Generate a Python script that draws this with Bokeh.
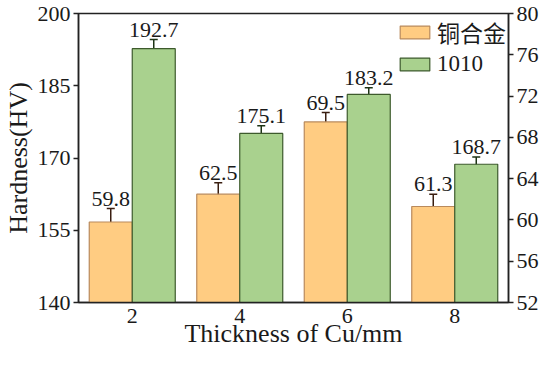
from bokeh.plotting import figure
from bokeh.models import (Range1d, LinearAxis, FixedTicker, Whisker, ColumnDataSource,
                          Legend, LegendItem, TeeHead, FactorRange)
from bokeh.transform import dodge
from bokeh.embed import file_html
from bokeh.resources import INLINE

thickness = ["2", "4", "6", "8"]
cu_alloy = [59.8, 62.5, 69.5, 61.3]
cu_err = [1.3, 1.1, 0.9, 1.2]
steel_1010 = [192.7, 175.1, 183.2, 168.7]
steel_err = [1.9, 1.6, 1.4, 1.5]
left_ticks = [140, 155, 170, 185, 200]
right_ticks = [52, 56, 60, 64, 68, 72, 76, 80]

FONT = "'Liberation Serif', 'Times New Roman', serif"
LEG_FONT = "'Liberation Serif', 'Noto Sans CJK SC', serif"

src_cu = ColumnDataSource(dict(
    x=thickness, top=cu_alloy,
    upper=[v + e for v, e in zip(cu_alloy, cu_err)],
    lower=[v - e for v, e in zip(cu_alloy, cu_err)],
    label=[f"{v}" for v in cu_alloy]))
src_st = ColumnDataSource(dict(
    x=thickness, top=steel_1010,
    upper=[v + e for v, e in zip(steel_1010, steel_err)],
    lower=[v - e for v, e in zip(steel_1010, steel_err)],
    label=[f"{v}" for v in steel_1010]))

p = figure(x_range=FactorRange(factors=thickness, range_padding=0),
           y_range=Range1d(140, 200), width=541, height=350,
           output_backend="svg", toolbar_location=None,
           min_border_top=13, min_border_right=0, min_border_left=0, min_border_bottom=0)
p.extra_y_ranges = {"right": Range1d(52, 80)}
p.xgrid.grid_line_color = None
p.ygrid.grid_line_color = None
p.outline_line_color = "#222222"
p.outline_line_width = 1.5
p.background_fill_color = "white"

orange_fill, orange_line, orange_err = "#FFCC82", "#B98A5C", "#3A1E10"
green_fill, green_line, green_err = "#A9D18E", "#3D5A2C", "#1C3314"

r_cu = p.vbar(x=dodge("x", -0.2, range=p.x_range), top="top", bottom=52, width=0.4,
              source=src_cu, y_range_name="right", fill_color=orange_fill,
              line_color=orange_line, line_width=1.2)
r_st = p.vbar(x=dodge("x", 0.2, range=p.x_range), top="top", bottom=140, width=0.4,
              source=src_st, fill_color=green_fill, line_color=green_line, line_width=1.2)

w_cu = Whisker(source=src_cu, base=dodge("x", -0.2, range=p.x_range), upper="upper",
               lower="lower", y_range_name="right", line_color=orange_err, line_width=1.5,
               upper_head=TeeHead(size=8, line_color=orange_err, line_width=1.5),
               lower_head=TeeHead(size=8, line_color=orange_err, line_width=1.5))
w_st = Whisker(source=src_st, base=dodge("x", 0.2, range=p.x_range), upper="upper",
               lower="lower", line_color=green_err, line_width=1.5,
               upper_head=TeeHead(size=8, line_color=green_err, line_width=1.5),
               lower_head=TeeHead(size=8, line_color=green_err, line_width=1.5))
p.add_layout(w_cu)
p.add_layout(w_st)

p.text(x=dodge("x", -0.2, range=p.x_range), y="upper", text="label", source=src_cu,
       y_range_name="right", text_align="center", text_baseline="bottom", y_offset=-3,
       text_font=FONT, text_font_size="22px", text_color="#1a1a1a")
p.text(x=dodge("x", 0.2, range=p.x_range), y="upper", text="label", source=src_st,
       text_align="center", text_baseline="bottom", y_offset=-3,
       text_font=FONT, text_font_size="22px", text_color="#1a1a1a")

# left axis
ya = p.yaxis[0]
ya.ticker = FixedTicker(ticks=left_ticks)
ya.axis_label = "Hardness(HV)"

# right axis
ra = LinearAxis(y_range_name="right", ticker=FixedTicker(ticks=right_ticks))
p.add_layout(ra, "right")

for ax in (ya, ra):
    ax.major_tick_out = 5
    ax.major_tick_in = 0
    ax.minor_tick_line_color = None
    ax.major_label_standoff = 3

xa = p.xaxis[0]
xa.axis_label = "Thickness of Cu/mm"
xa.major_tick_out = 0
xa.major_tick_in = 0
xa.major_label_standoff = 6
xa.axis_label_standoff = -7

for ax in (ya, ra, xa):
    ax.axis_line_color = "#222222"
    ax.axis_line_width = 1.5
    ax.major_tick_line_color = "#222222" if ax is not xa else None
    ax.major_tick_line_width = 1.5
    ax.major_label_text_font = FONT
    ax.major_label_text_font_size = "22px"
    ax.major_label_text_color = "#1a1a1a"
    ax.axis_label_text_font = FONT
    ax.axis_label_text_font_size = "26px"
    ax.axis_label_text_font_style = "normal"
    ax.axis_label_text_color = "#1a1a1a"
ya.axis_label_standoff = 2

legend = Legend(items=[LegendItem(label="铜合金", renderers=[r_cu]),
                       LegendItem(label="1010", renderers=[r_st])],
                location="top_right")
legend.border_line_color = None
legend.background_fill_alpha = 0
legend.margin = 2
legend.padding = 2
legend.spacing = 2
legend.glyph_width = 37
legend.glyph_height = 16
legend.label_standoff = 4
legend.label_height = 20
legend.label_text_font = LEG_FONT
legend.label_text_font_size = "23px"
legend.label_text_color = "#1a1a1a"
p.add_layout(legend)

open("out.html", "w").write(file_html(p, INLINE))
